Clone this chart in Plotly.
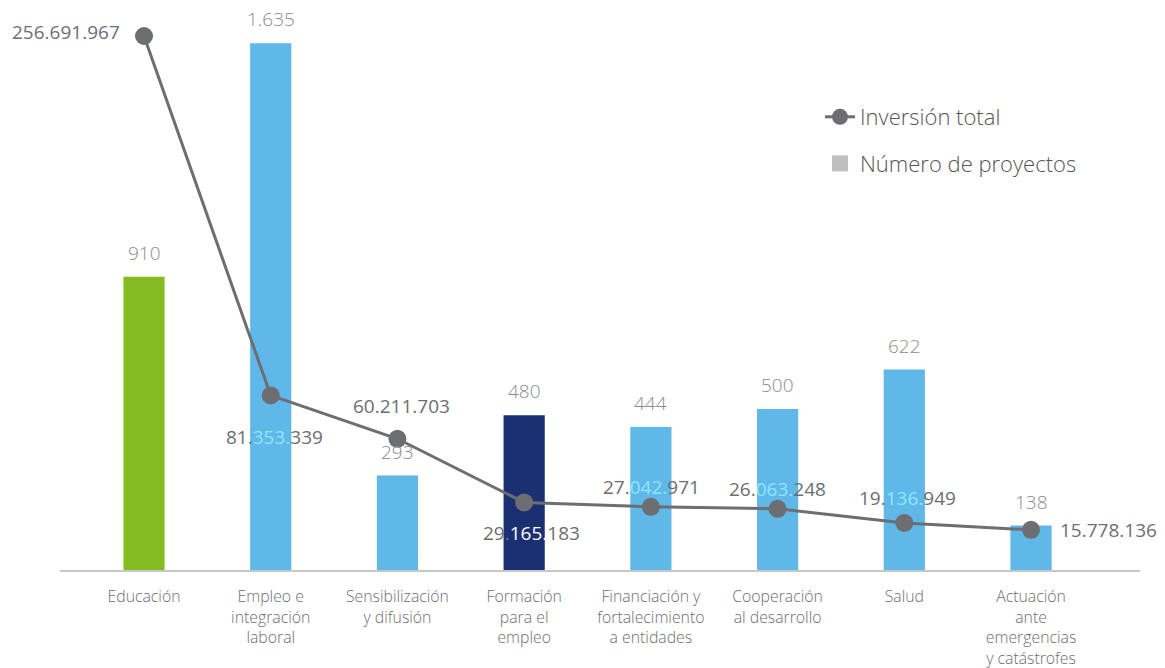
import plotly.graph_objects as go

categories = ["Educación", "Empleo e<br>integración<br>laboral", "Sensibilización<br>y difusión",
              "Formación<br>para el<br>empleo", "Financiación y<br>fortalecimiento<br>a entidades",
              "Cooperación<br>al desarrollo", "Salud", "Actuación<br>ante<br>emergencias<br>y catástrofes"]
num_proyectos = [910, 1635, 293, 480, 444, 500, 622, 138]
inversion_total = [256691967, 81353339, 60211703, 29165183, 27042971, 26063248, 19136949, 15778136]

bar_colors = ["#84BC22", "#5FB8E8", "#5FB8E8", "#1B2F73", "#5FB8E8", "#5FB8E8", "#5FB8E8", "#5FB8E8"]
# label styling per point: (xanchor, xshift, yshift, highlight colour for middle group)
label_style = [
    ("right", -22, 4, None),
    ("center", 4, -42, "#8FE6FF"),
    ("center", 4, 33, None),
    ("center", 7, -31, "#FFFFFF"),
    ("center", 1, 20, "#8FE6FF"),
    ("center", 0, 20, "#8FE6FF"),
    ("center", 3, 25, "#8FE6FF"),
    ("left", 27, 0, None),
]

GRAY = "#6D6E71"
FONT = "Open Sans"
PLOT_L, PLOT_R, PLOT_T, PLOT_B = 60, 1140, 20, 570

fig = go.Figure()

fig.add_trace(go.Bar(
    x=categories, y=num_proyectos, marker=dict(color=bar_colors, line=dict(width=0)),
    width=0.325, showlegend=False, cliponaxis=False, hoverinfo="skip",
))

fig.add_trace(go.Scatter(
    x=categories, y=inversion_total, yaxis="y2", mode="lines+markers",
    name="Inversión total", line=dict(color=GRAY, width=3),
    marker=dict(color=GRAY, size=18), cliponaxis=False, legendgroup="a",
))

fig.add_trace(go.Scatter(
    x=[None], y=[None], name="Número de proyectos", mode="markers",
    marker=dict(color="#BFBFBF", symbol="square", size=18), legendgroup="b",
))


def fmt(v):
    return f"{v:,}".replace(",", ".")


for cat, n in zip(categories, num_proyectos):
    fig.add_annotation(
        x=cat, y=n, yref="y", text=fmt(n), showarrow=False,
        xanchor="center", yanchor="bottom", yshift=9,
        font=dict(family=FONT, size=19, color="#8C8C8C", weight=300),
    )

for cat, v, (xa, xs, ys, hl) in zip(categories, inversion_total, label_style):
    s = fmt(v)
    if hl:
        parts = s.split(".")
        s = f"{parts[0]}.<span style='color:{hl}'>{parts[1]}.</span>{parts[2]}"
    fig.add_annotation(
        x=cat, y=v, yref="y2", text=s, showarrow=False,
        xanchor=xa, yanchor="middle", xshift=xs, yshift=ys,
        font=dict(family=FONT, size=19, color=GRAY),
    )

pw = PLOT_R - PLOT_L
ph = PLOT_B - PLOT_T

fig.update_layout(
    width=1165, height=668,
    margin=dict(l=PLOT_L, r=1165 - PLOT_R, t=PLOT_T, b=668 - PLOT_B, autoexpand=False),
    paper_bgcolor="white", plot_bgcolor="white",
    barmode="overlay",
    separators=",.",
    font=dict(family=FONT, color=GRAY),
    xaxis=dict(
        type="category", range=[-0.663, 7.86], showgrid=False, zeroline=False,
        showline=True, linecolor="#C8C8C8", linewidth=2, ticks="", tickangle=0,
        automargin=False, ticklabelstandoff=11,
        tickfont=dict(family=FONT, size=15.8, color="#6D6E71", weight=300),
    ),
    yaxis=dict(range=[0, 1707], visible=False, showgrid=False, zeroline=False),
    yaxis2=dict(range=[-3.80e6, 264.49e6], overlaying="y", side="right",
                visible=False, showgrid=False, zeroline=False),
    legend=dict(
        x=(820 - PLOT_L) / pw, y=1 - (96 - PLOT_T) / ph,
        xanchor="left", yanchor="top", traceorder="grouped", tracegroupgap=15,
        font=dict(family=FONT, size=22, color="#555555", weight=300),
        bgcolor="rgba(0,0,0,0)",
    ),
)

fig.write_html("out.html", config={"displayModeBar": False},
               post_script="document.body.style.margin='0';")
